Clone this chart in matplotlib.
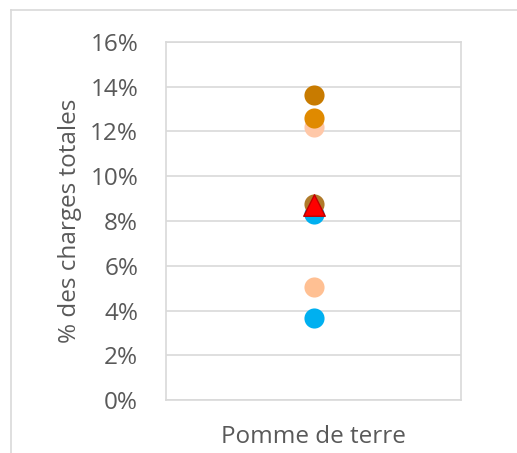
import matplotlib.pyplot as plt
from matplotlib.ticker import PercentFormatter
from matplotlib.lines import Line2D

plt.rcParams['font.family'] = ['Open Sans', 'DejaVu Sans']

# Données (% des charges totales)
categorie = "Pomme de terre"
series = ["bleu_bas", "peche_bas", "bleu_haut", "brun_moy", "peche_haut", "orange", "orange_fonce"]
valeurs = [3.65, 5.05, 8.3, 8.75, 12.2, 12.6, 13.65]
couleurs = ["#00B0F0", "#FFC093", "#00B0F0", "#B07A2A", "#FFC8A8", "#E08A00", "#C87B00"]
moyenne = 8.7

fig = plt.figure(figsize=(5.17, 4.53), dpi=100)
ax = fig.add_axes([166/517, 1 - 400/453, 295/517, 358/453])

for v, c in zip(valeurs, couleurs):
    ax.scatter([0], [v], s=210, color=c, zorder=3, linewidths=0)
ax.scatter([0], [moyenne], s=240, marker="^", color="#FF0000", edgecolor="#C00000",
           linewidths=1, zorder=4)

ax.set_xlim(-1, 1)
ax.set_ylim(0, 16)
ax.set_yticks(range(0, 17, 2))
ax.yaxis.set_major_formatter(PercentFormatter(decimals=0))
ax.set_xticks([])
ax.grid(axis="y", color="#D9D9D9", linewidth=1.2)
ax.set_axisbelow(True)
for s in ax.spines.values():
    s.set_color("#D9D9D9")
    s.set_linewidth(1.2)
ax.tick_params(axis="y", length=0, labelsize=17.5, labelcolor="#595959", pad=20)
ax.set_ylabel("% des charges totales", fontsize=17.5, color="#595959", labelpad=6)
ax.set_xlabel(categorie, fontsize=17.5, color="#595959", labelpad=18)

# cadre extérieur du graphique
fig.add_artist(Line2D([11/517, 11/517], [0, 1 - 10/453], transform=fig.transFigure,
                      color="#D9D9D9", linewidth=1.2))
fig.add_artist(Line2D([11/517, 1], [1 - 10/453, 1 - 10/453], transform=fig.transFigure,
                      color="#D9D9D9", linewidth=1.2))

fig.savefig("out.png", dpi=100)
